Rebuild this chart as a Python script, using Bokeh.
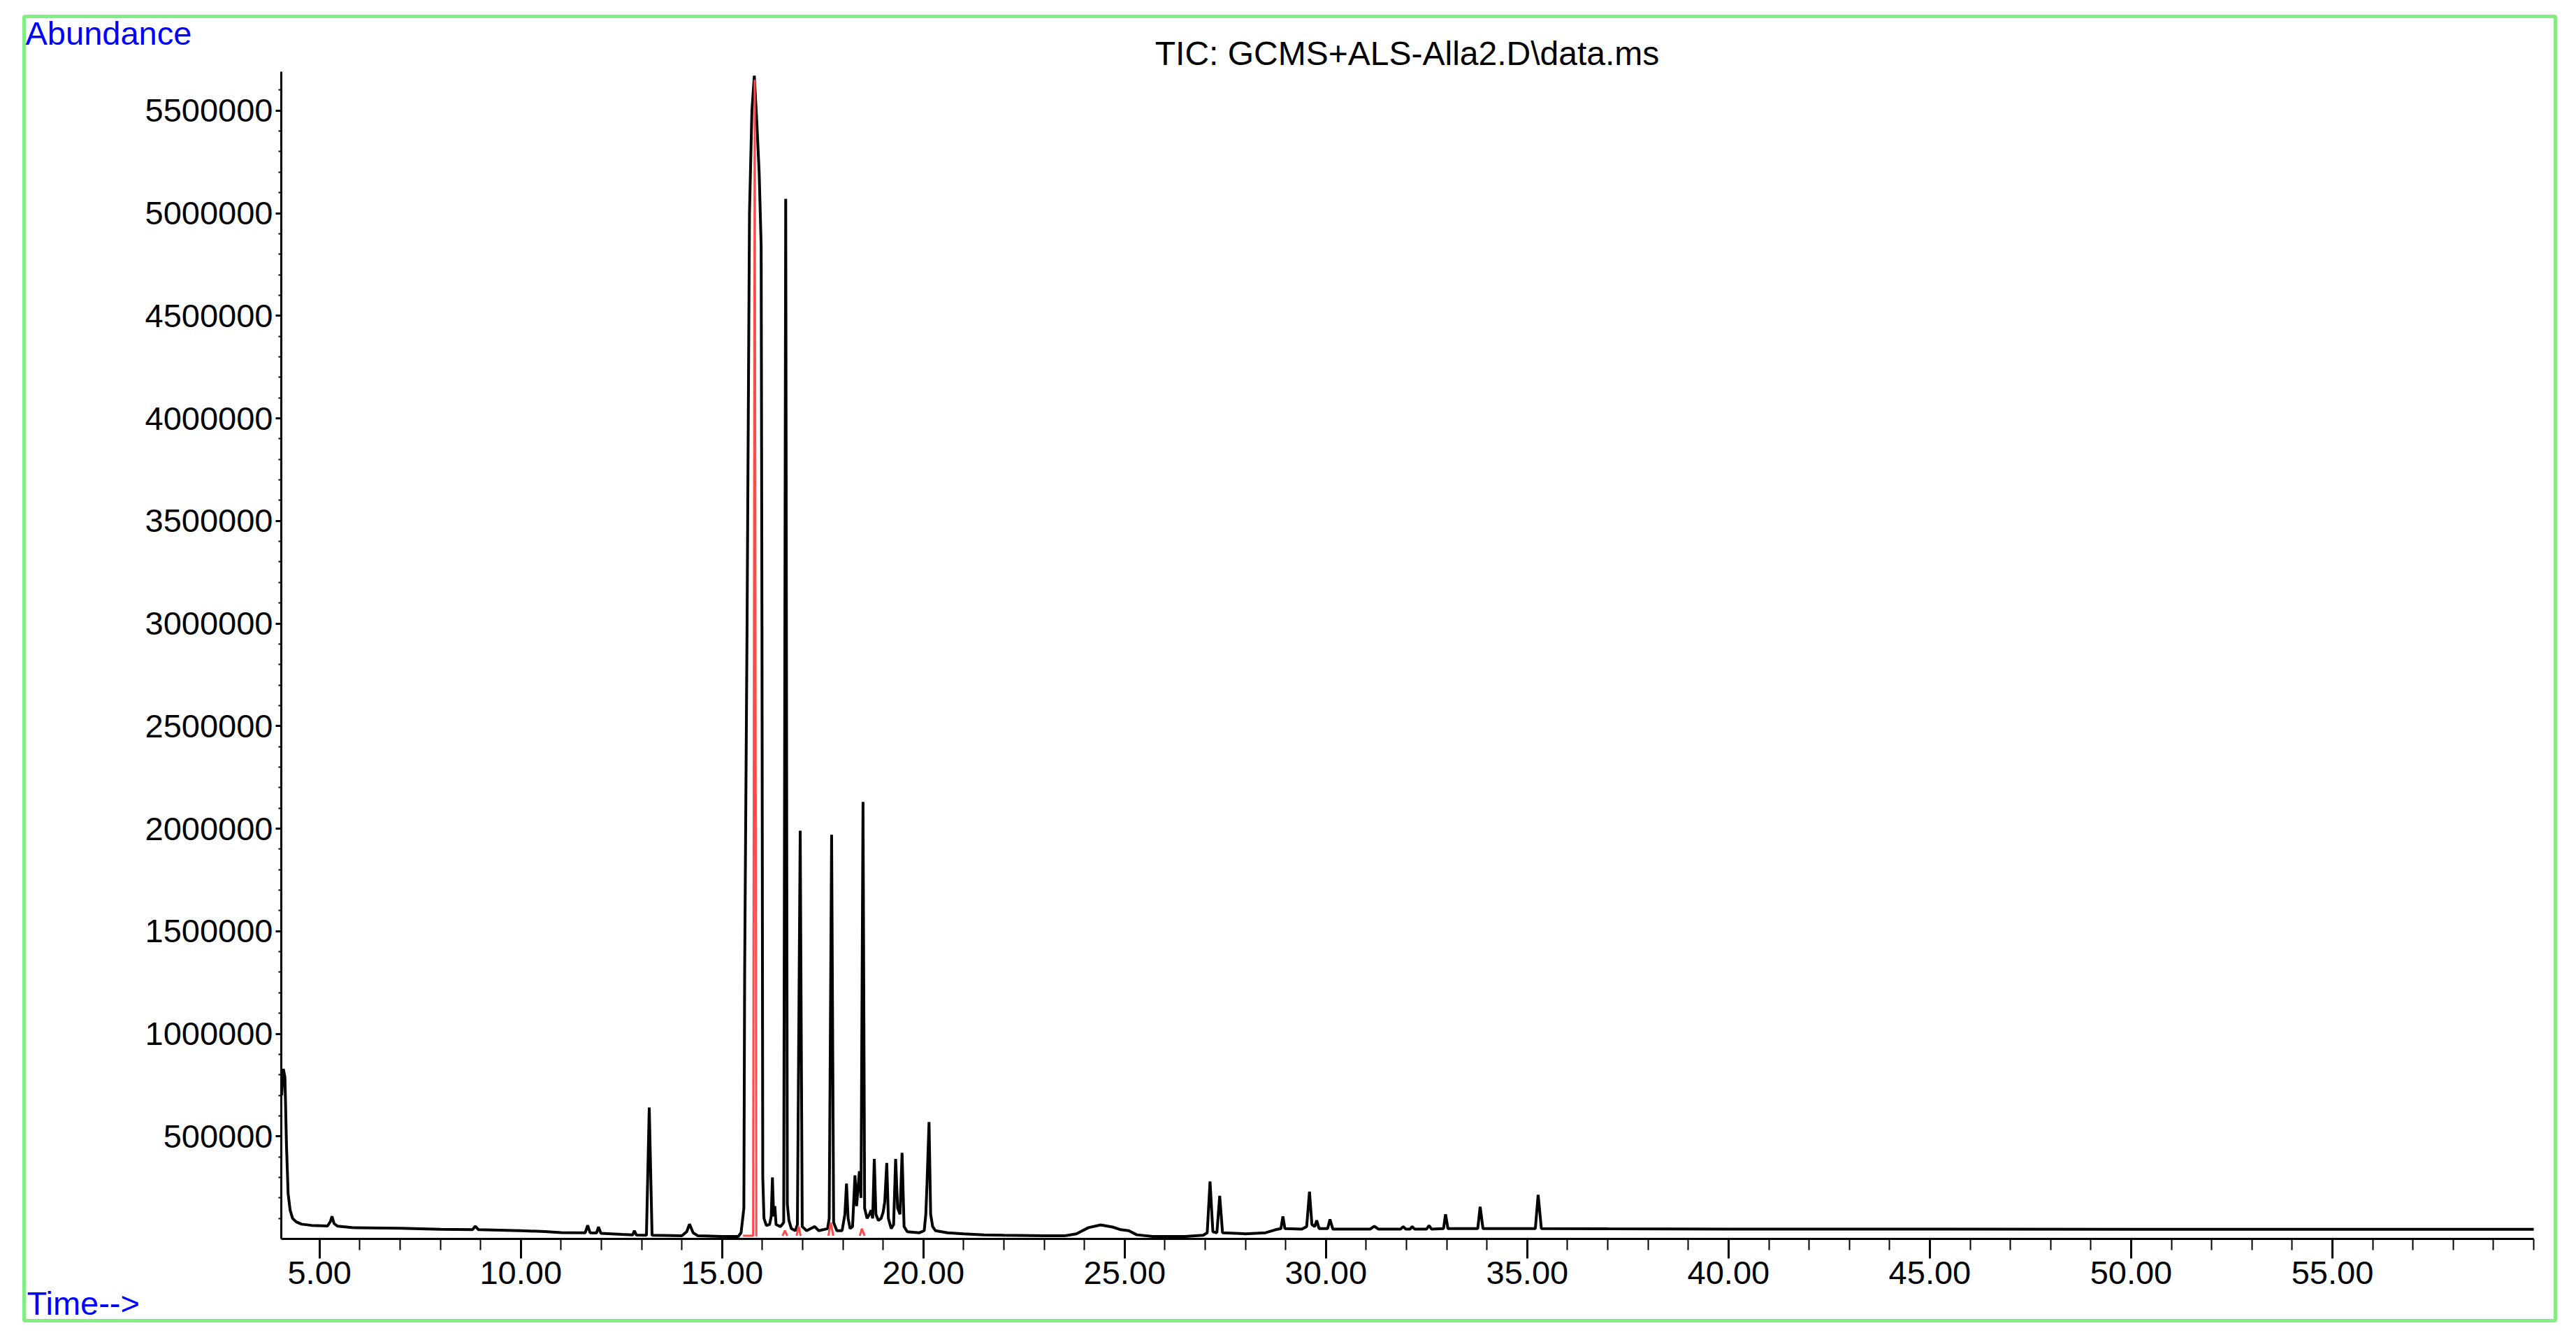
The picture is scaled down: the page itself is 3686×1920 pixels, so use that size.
from bokeh.plotting import figure
from bokeh.models import (Range1d, FixedTicker, NumeralTickFormatter, Label,
                          BoxAnnotation, LinearAxis)
from bokeh.embed import file_html
from bokeh.resources import INLINE

# ---- data (time in min, abundance in counts) ----
trace_time = [
    4.06, 4.10, 4.14, 4.18, 4.22, 4.27, 4.33, 4.42, 4.55, 4.80,
    5.20, 5.27, 5.31, 5.36, 5.45, 5.80, 7.00, 8.00, 8.80, 8.87,
    8.95, 10.00, 10.60, 11.00, 11.60, 11.66, 11.72, 11.88, 11.93, 11.99,
    12.50, 12.78, 12.82, 12.87, 13.12, 13.19, 13.26, 14.00, 14.12, 14.19,
    14.28, 14.40, 15.00, 15.40, 15.47, 15.50, 15.54, 15.56, 15.62, 15.68,
    15.74, 15.80, 15.86, 15.92, 15.97, 15.99, 16.01, 16.04, 16.10, 16.18,
    16.22, 16.25, 16.28, 16.31, 16.34, 16.45, 16.53, 16.58, 16.62, 16.66,
    16.72, 16.82, 16.87, 16.94, 16.99, 17.10, 17.20, 17.30, 17.40, 17.62,
    17.66, 17.72, 17.77, 17.85, 17.98, 18.05, 18.09, 18.13, 18.18, 18.24,
    18.30, 18.34, 18.41, 18.45, 18.50, 18.54, 18.60, 18.66, 18.70, 18.74,
    18.78, 18.82, 18.88, 18.95, 19.00, 19.04, 19.09, 19.13, 19.20, 19.26,
    19.31, 19.36, 19.42, 19.47, 19.52, 19.60, 19.90, 20.02, 20.06, 20.09,
    20.14, 20.18, 20.23, 20.30, 20.60, 21.00, 21.50, 22.00, 23.00, 23.50,
    23.80, 24.10, 24.40, 24.70, 24.90, 25.10, 25.30, 25.70, 26.50, 26.95,
    27.05, 27.12, 27.19, 27.29, 27.36, 27.43, 28.00, 28.50, 28.75, 28.88,
    28.93, 28.98, 29.40, 29.52, 29.59, 29.65, 29.72, 29.77, 29.83, 30.04,
    30.10, 30.17, 31.10, 31.20, 31.30, 31.85, 31.92, 31.98, 32.09, 32.14,
    32.20, 32.50, 32.56, 32.62, 32.92, 32.97, 33.03, 33.77, 33.83, 33.90,
    35.20, 35.27, 35.35, 37.00, 40.00, 45.00, 50.00, 55.00, 60.00,
]
trace_abundance = [
    700000, 828000, 790000, 450000, 220000, 140000, 100000, 83000, 72000, 66000,
    63000, 85000, 110000, 75000, 62000, 55000, 52000, 47000, 45000, 62000,
    45000, 40000, 36000, 31000, 30000, 66000, 30000, 29000, 58000, 27000,
    22000, 20000, 40000, 19000, 18000, 640000, 18000, 15000, 35000, 72000,
    30000, 15000, 12000, 12000, 30000, 80000, 150000, 1300000, 3000000, 5000000,
    5500000, 5670000, 5450000, 5200000, 4840000, 3000000, 300000, 100000, 65000, 70000,
    110000, 300000, 110000, 160000, 70000, 60000, 80000, 5070000, 170000, 90000,
    50000, 40000, 70000, 1990000, 60000, 40000, 50000, 60000, 40000, 50000,
    100000, 1970000, 80000, 40000, 40000, 120000, 270000, 100000, 50000, 60000,
    310000, 160000, 330000, 200000, 2130000, 150000, 100000, 120000, 140000, 100000,
    390000, 120000, 90000, 100000, 130000, 180000, 370000, 100000, 50000, 70000,
    390000, 150000, 120000, 420000, 60000, 35000, 30000, 40000, 120000, 270000,
    570000, 120000, 60000, 40000, 30000, 25000, 20000, 18000, 15000, 15000,
    25000, 55000, 68000, 58000, 45000, 40000, 20000, 12000, 12000, 18000,
    30000, 280000, 35000, 30000, 210000, 30000, 25000, 30000, 45000, 50000,
    110000, 50000, 48000, 60000, 230000, 70000, 60000, 90000, 50000, 50000,
    95000, 48000, 48000, 62000, 48000, 48000, 60000, 48000, 48000, 60000,
    48000, 48000, 65000, 48000, 50000, 120000, 50000, 50000, 157000, 50000,
    50000, 215000, 50000, 49000, 48000, 48000, 47000, 47000, 47000,
]

# red integration markers
marker_time = [
    [15.52, 15.77, 15.81, 15.85, 15.87],
    [16.50, 16.56, 16.62],
    [16.85, 16.90, 16.95],
    [17.64, 17.70, 17.76],
    [18.42, 18.47, 18.54],
]
marker_abundance = [
    [15000, 15000, 5650000, 15000, 15000],
    [15000, 40000, 15000],
    [15000, 60000, 15000],
    [15000, 80000, 15000],
    [15000, 50000, 15000],
]

x_major_ticks = [5, 10, 15, 20, 25, 30, 35, 40, 45, 50, 55]
x_minor_ticks = list(range(5, 61))
y_major_ticks = [500000, 1000000, 1500000, 2000000, 2500000, 3000000,
                 3500000, 4000000, 4500000, 5000000, 5500000]
y_minor_ticks = [k * 100000 for k in range(1, 57)]

time_start, time_end = 4.05, 60.0
abund_start, abund_end = 0, 5690000

title_text = "TIC: GCMS+ALS-Alla2.D\\data.ms"
y_label_text = "Abundance"
x_label_text = "Time-->"

FONT = "Liberation Sans"

# ---- layout (pixels on the canvas) ----
W, H = 3680, 1912
FRAME_L, FRAME_R, FRAME_T, FRAME_B = 402, 3625, 102, 1772
kx = (FRAME_R - FRAME_L) / (time_end - time_start)
ky = (FRAME_B - FRAME_T) / (abund_end - abund_start)
x_range = Range1d(time_start - FRAME_L / kx, time_end + (W - FRAME_R) / kx)
y_range = Range1d(abund_start - (H - FRAME_B) / ky, abund_end + FRAME_T / ky)

p = figure(width=W, height=H, output_backend="svg", toolbar_location=None,
           x_range=x_range, y_range=y_range,
           x_axis_location=None, y_axis_location=None, min_border=0)
p.title.visible = False
p.grid.visible = False
p.outline_line_color = None
p.background_fill_color = "white"
p.border_fill_color = "white"

xa = LinearAxis(fixed_location=abund_start, bounds=(time_start, time_end))
xa.ticker = FixedTicker(ticks=x_major_ticks, minor_ticks=x_minor_ticks)
xa.formatter = NumeralTickFormatter(format="0.00")
xa.axis_line_width = 3
xa.axis_line_color = "black"
xa.major_tick_in = 0
xa.major_tick_out = 28
xa.major_tick_line_width = 3
xa.minor_tick_in = 0
xa.minor_tick_out = 16
xa.minor_tick_line_width = 2
xa.major_label_text_font = FONT
xa.major_label_text_font_size = "47px"
xa.major_label_text_color = "black"
xa.major_label_standoff = 4
p.add_layout(xa, "below")

ya = LinearAxis(fixed_location=time_start, bounds=(abund_start, abund_end))
ya.ticker = FixedTicker(ticks=y_major_ticks, minor_ticks=y_minor_ticks)
ya.formatter = NumeralTickFormatter(format="0")
ya.axis_line_width = 3
ya.axis_line_color = "black"
ya.major_tick_in = 0
ya.major_tick_out = 8
ya.major_tick_line_width = 3
ya.minor_tick_in = 0
ya.minor_tick_out = 4
ya.minor_tick_line_width = 2
ya.major_label_text_font = FONT
ya.major_label_text_font_size = "47px"
ya.major_label_text_color = "black"
ya.major_label_standoff = 4
p.add_layout(ya, "left")

p.line(trace_time, trace_abundance, line_color="black", line_width=4)
p.multi_line(marker_time, marker_abundance, line_color="#ff4a4a", line_width=3)

p.add_layout(BoxAnnotation(left=34, right=3656, top=23, bottom=1889,
                           left_units="canvas", right_units="canvas",
                           top_units="canvas", bottom_units="canvas",
                           fill_color=None, fill_alpha=0,
                           line_color="#80ee80", line_alpha=1.0, line_width=5))

TEXT_SHIFT = 16
p.add_layout(Label(x=36, y=63 - TEXT_SHIFT, x_units="canvas", y_units="canvas",
                   text=y_label_text, text_color="#0000ff", text_font=FONT,
                   text_font_size="47px", text_align="left",
                   text_baseline="alphabetic"))
p.add_layout(Label(x=38, y=1880 - TEXT_SHIFT, x_units="canvas", y_units="canvas",
                   text=x_label_text, text_color="#0000ff", text_font=FONT,
                   text_font_size="47px", text_align="left",
                   text_baseline="alphabetic"))
p.add_layout(Label(x=2013, y=92 - TEXT_SHIFT, x_units="canvas", y_units="canvas",
                   text=title_text, text_color="black", text_font=FONT,
                   text_font_size="48px", text_align="center",
                   text_baseline="alphabetic"))

assert len(trace_time) == len(trace_abundance)

open("out.html", "w").write(file_html(p, INLINE))
